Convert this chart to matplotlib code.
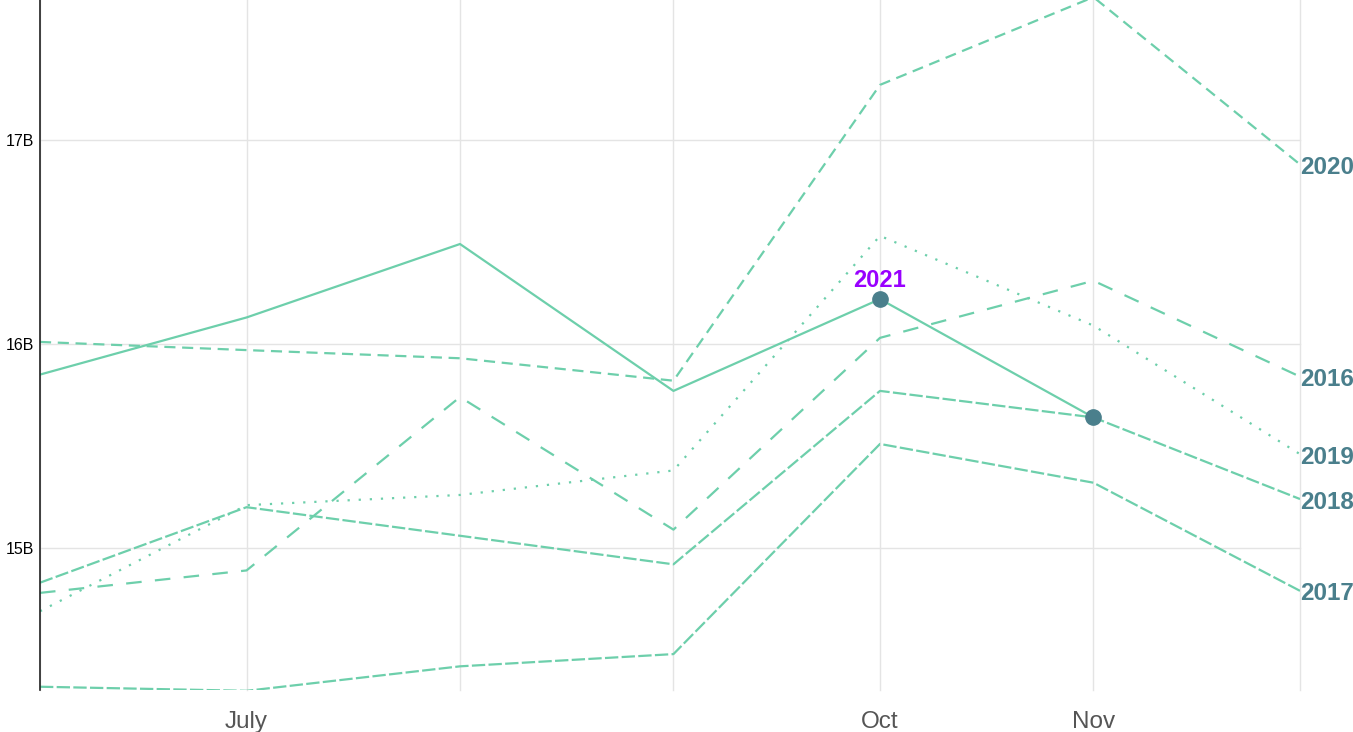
import matplotlib
matplotlib.use("Agg")
import matplotlib.pyplot as plt
import matplotlib.dates as mdates
import numpy as np
import datetime as dt

plt.rcParams['font.family'] = ['Liberation Sans', 'DejaVu Sans']

months = ["2021-06-01", "2021-07-01", "2021-08-01", "2021-09-01",
          "2021-10-01", "2021-11-01", "2021-12-01"]
y2016 = [14.78, 14.89, 15.74, 15.09, 16.03, 16.31, 15.84]
y2017 = [14.32, 14.30, 14.42, 14.48, 15.51, 15.32, 14.79]
y2018 = [14.83, 15.20, 15.06, 14.92, 15.77, 15.64, 15.24]
y2019 = [14.69, 15.21, 15.26, 15.38, 16.53, 16.09, 15.46]
y2020 = [16.01, 15.97, 15.93, 15.82, 17.27, 17.70, 16.88]
y2021 = [15.85, 16.13, 16.49, 15.77, 16.22, 15.64]
ytick_vals = [15, 16, 17]
ytick_labels = ["15B", "16B", "17B"]
xtick_dates = ["2021-07-01", "2021-10-01", "2021-11-01"]
xtick_labels = ["July", "Oct", "Nov"]

dates = [dt.datetime.strptime(m, "%Y-%m-%d") for m in months]
xnum = mdates.date2num(dates)

line_color = "#6dcfab"
label_color = "#4a7f8c"

fig = plt.figure(figsize=(13.53, 7.32), dpi=100)
ax = fig.add_axes([40/1353, 42/732, 1260/1353, 690/732])

ax.plot(xnum, y2020, color=line_color, lw=1.6, linestyle=(0, (5, 3)))
ax.plot(xnum, y2016, color=line_color, lw=1.6, linestyle=(0, (7, 6)))
ax.plot(xnum, y2019, color=line_color, lw=1.6, linestyle=(0, (1, 4)))
ax.plot(xnum, y2018, color=line_color, lw=1.6, linestyle=(0, (6, 1.5)))
ax.plot(xnum, y2017, color=line_color, lw=1.6, linestyle=(0, (6, 1.5)))
ax.plot(xnum[:len(y2021)], y2021, color=line_color, lw=1.6, linestyle='-')

# markers on 2021
ax.plot([xnum[4], xnum[5]], [y2021[4], y2021[5]], 'o', color=label_color,
        markersize=11, zorder=5)
ax.annotate("2021", (xnum[4], y2021[4]), xytext=(0, 5), textcoords='offset points',
            ha='center', va='bottom', color='#9900ff', fontsize=17, fontweight='bold')

ends = [("2020", y2020[-1]), ("2016", y2016[-1]), ("2019", y2019[-1]),
        ("2018", y2018[-1]), ("2017", y2017[-1])]
for name, v in ends:
    ax.text(xnum[-1], v - 0.015, name, ha='left', va='center', color=label_color,
            fontsize=17.5, fontweight='bold', clip_on=False)

ax.set_xlim(xnum[0], xnum[-1])
ax.set_ylim(14.304, 17.686)
ax.set_yticks(ytick_vals)
ax.set_yticklabels(ytick_labels, fontsize=11.5)
ax.set_xticks(xnum)
ax.set_xticklabels(["" if m not in xtick_dates else xtick_labels[xtick_dates.index(m)] for m in months],
                   fontsize=17.5, color='#555555')
ax.tick_params(axis='both', length=0)
ax.tick_params(axis='x', pad=15)
ax.tick_params(axis='y', pad=4)
ax.grid(True, color='#e4e4e4', lw=1)
for gl in ax.get_xgridlines() + ax.get_ygridlines():
    gl.set_clip_on(False)
ax.set_axisbelow(True)
for s in ['top', 'right', 'bottom']:
    ax.spines[s].set_visible(False)
ax.spines['left'].set_color('#222222')
ax.spines['left'].set_linewidth(1.2)

fig.savefig("out.png", dpi=100)
